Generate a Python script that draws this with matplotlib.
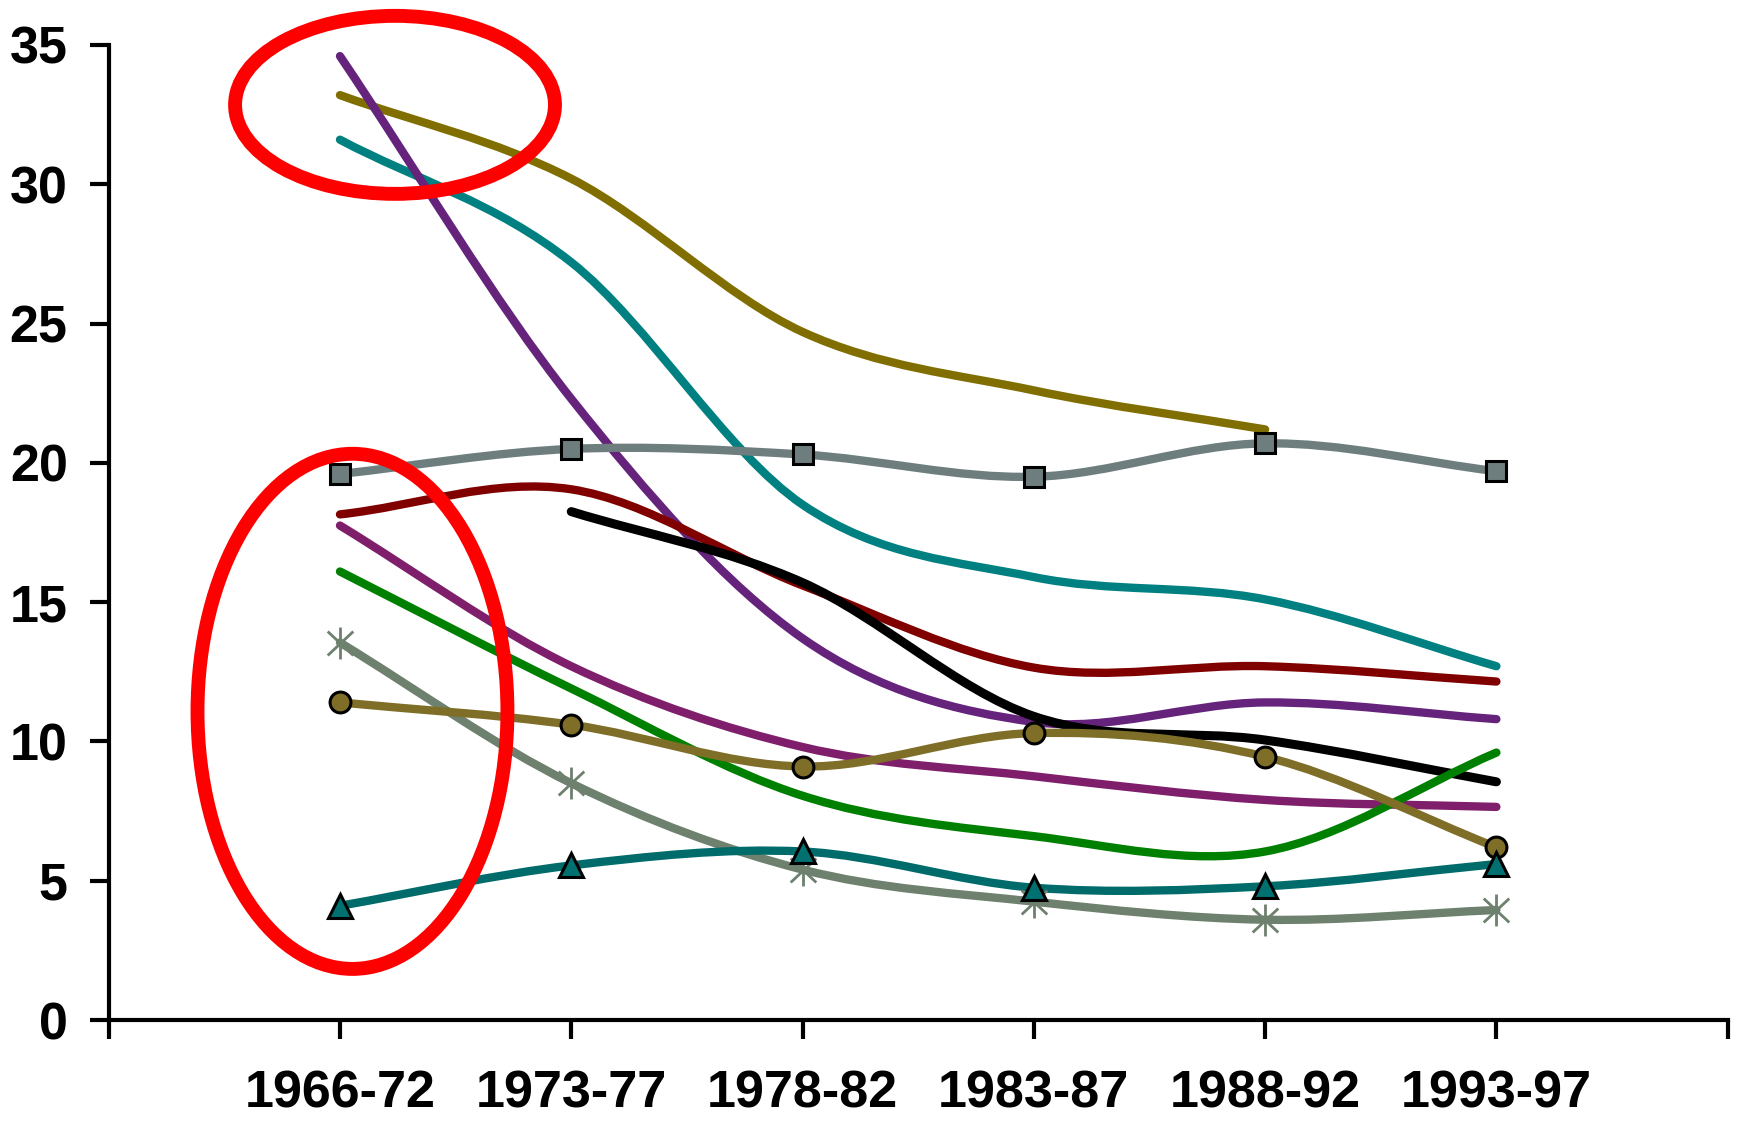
import numpy as np
import matplotlib.pyplot as plt
from matplotlib.path import Path
from matplotlib.patches import PathPatch, Ellipse

plt.rcParams["font.family"] = ["Liberation Sans", "DejaVu Sans"]
plt.rcParams["font.weight"] = "bold"

periods = ["1966-72", "1973-77", "1978-82", "1983-87", "1988-92", "1993-97"]
nan = np.nan

# one value per period, nan where the series has no point
olive = [33.2, 30.2, 24.7, 22.6, 21.2, nan]
teal = [31.6, 27.2, 18.5, 15.9, 15.1, 12.7]
purple = [34.6, 22.3, 13.7, 10.7, 11.4, 10.8]
gray_sq = [19.6, 20.5, 20.3, 19.5, 20.7, 19.7]
dark_red = [18.15, 19.05, 15.6, 12.65, 12.7, 12.15]
black = [nan, 18.25, 15.7, 10.9, 10.05, 8.55]
plum = [17.75, 12.7, 9.8, 8.75, 7.9, 7.65]
green = [16.1, 11.9, 8.05, 6.6, 6.05, 9.6]
gray_star = [13.55, 8.5, 5.4, 4.25, 3.6, 3.95]
brown = [11.4, 10.6, 9.1, 10.3, 9.45, 6.2]
dark_teal = [4.1, 5.55, 6.05, 4.75, 4.8, 5.6]


def smooth_path(xs, ys):
    # Excel style smoothed line: Catmull-Rom turned into cubic Bezier pieces
    pts = np.column_stack([xs, ys])
    n = len(pts)
    tang = np.zeros_like(pts)
    for i in range(n):
        if i == 0:
            tang[i] = pts[1] - pts[0]
        elif i == n - 1:
            tang[i] = pts[-1] - pts[-2]
        else:
            tang[i] = (pts[i + 1] - pts[i - 1]) / 2
    verts = [pts[0]]
    codes = [Path.MOVETO]
    for i in range(n - 1):
        verts += [pts[i] + tang[i] / 3, pts[i + 1] - tang[i + 1] / 3, pts[i + 1]]
        codes += [Path.CURVE4] * 3
    return Path(verts, codes)


# asterisk marker: vertical bar plus a cross
star = Path(
    [(0, -1), (0, 1), (-0.8, -0.75), (0.8, 0.75), (-0.8, 0.75), (0.8, -0.75)],
    [Path.MOVETO, Path.LINETO] * 3,
)

series = [
    (olive, "#806F00", 6.0, None),
    (teal, "#008080", 6.0, None),
    (purple, "#66237C", 6.0, None),
    (gray_sq, "#6E7E7E", 6.0, dict(marker="s", ms=15, mfc="#6E7E7E", mec="black", mew=2.2)),
    (dark_red, "#800000", 6.0, None),
    (black, "black", 6.5, None),
    (plum, "#7F1F6C", 6.0, None),
    (green, "#008000", 6.0, None),
    (gray_star, "#6E806E", 6.0, dict(marker=star, ms=23, mfc="none", mec="#6E806E", mew=2)),
    (brown, "#7F6E28", 6.0, dict(marker="o", ms=15, mfc="#7F6E28", mec="black", mew=2.2)),
    (dark_teal, "#006B6B", 6.0, dict(marker="^", ms=17, mfc="#007070", mec="black", mew=2.2)),
]

fig = plt.figure(figsize=(17.39, 11.24), dpi=100)
ax = fig.add_axes([0.0625, 0.0925, 0.931, 0.8675])

for vals, col, lw, mk in series:
    y = np.array(vals, dtype=float)
    x = np.arange(len(y))
    ok = ~np.isnan(y)
    patch = PathPatch(smooth_path(x[ok], y[ok]), fill=False, edgecolor=col, lw=lw,
                      capstyle="round", joinstyle="round", clip_on=False)
    ax.add_patch(patch)
    if mk:
        ax.plot(x[ok], y[ok], linestyle="none", clip_on=False, **mk)

# red highlight rings
ax.add_patch(Ellipse((0.238, 32.85), 1.383, 6.39, fill=False, edgecolor="#FF0000",
                     lw=10, clip_on=False, zorder=5))
ax.add_patch(Ellipse((0.054, 11.08), 1.34, 18.49, fill=False, edgecolor="#FF0000",
                     lw=10, clip_on=False, zorder=5))

ax.set_xlim(-1, 6)
ax.set_ylim(0, 35)
ax.set_xticks(np.arange(-1, len(periods) + 1))
ax.set_xticklabels([""] + periods + [""])
ax.set_yticks(np.arange(0, 36, 5))

ax.spines["top"].set_visible(False)
ax.spines["right"].set_visible(False)
ax.spines["left"].set_linewidth(3)
ax.spines["bottom"].set_linewidth(3)
ax.tick_params(axis="both", direction="out", length=13.5, width=3, labelsize=37.5)
ax.tick_params(axis="x", pad=22)
ax.tick_params(axis="y", pad=16)

fig.savefig("out.png", dpi=100)
